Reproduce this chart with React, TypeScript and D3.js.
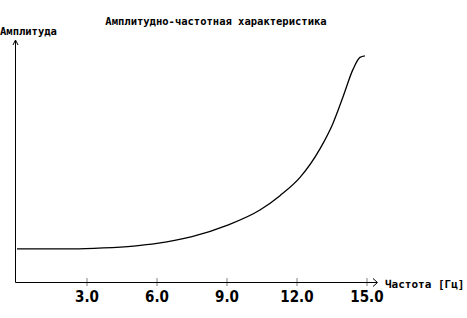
import React from "react";
import * as d3 from "d3";

const freq = [0, 2.4, 3.7, 5, 6, 7.5, 9, 10.41, 11.27, 12.13, 12.99, 13.54, 13.97, 14.4, 14.7, 14.91];
const amplitude = [0.142, 0.142, 0.146, 0.154, 0.165, 0.193, 0.24, 0.304, 0.364, 0.44, 0.56, 0.665, 0.775, 0.89, 0.94, 0.946];
const tickValues = [3, 6, 9, 12, 15];
const title = "Амплитудно-частотная характеристика";
const yLabel = "Амплитуда";
const xLabel = "Частота [Гц]";

const W = 467;
const H = 318;

export default function App() {
  const x = d3.scaleLinear().domain([0, 15]).range([17, 367]);
  const y = d3.scaleLinear().domain([0, 1]).range([283, 43]);
  const pts = freq.map((f, i) => [f, amplitude[i]] as [number, number]);
  const line = d3
    .line<[number, number]>()
    .x((d) => x(d[0]))
    .y((d) => y(d[1]))
    .curve(d3.curveMonotoneX);
  const axisY = 282.5;
  const axisX = 15.5;
  const pix = "'DejaVu Sans Mono', monospace";
  return (
    <div style={{ position: "absolute", left: 0, top: 0 }}>
      <svg width={W} height={H} style={{ display: "block", background: "#fff" }}>
        <text x={216} y={25} textAnchor="middle" fontFamily={pix} fontSize={10.5} fontWeight="bold" fill="#000">
          {title}
        </text>
        <text x={0} y={35} fontFamily={pix} fontSize={10.5} fontWeight="bold" fill="#000">
          {yLabel}
        </text>
        <text x={385} y={288} fontFamily={pix} fontSize={11} fontWeight="bold" fill="#000">
          {xLabel}
        </text>
        {/* y axis */}
        <line x1={axisX} y1={41} x2={axisX} y2={axisY} stroke="#000" strokeWidth={1} />
        <path d={`M${axisX - 2.5},${45} L${axisX},${40} L${axisX + 2.5},${45}`} fill="none" stroke="#000" strokeWidth={1} />
        {/* x axis */}
        <line x1={axisX} y1={axisY} x2={377} y2={axisY} stroke="#000" strokeWidth={1.2} />
        <path d={`M${373},${axisY - 4} L${377.5},${axisY} L${373},${axisY + 4}`} fill="none" stroke="#000" strokeWidth={1} />
        {tickValues.map((t) => (
          <g key={t}>
            <line x1={x(t)} y1={axisY - 4} x2={x(t)} y2={axisY + 3} stroke="#000" strokeWidth={1} strokeDasharray="1,1" />
            <text
              x={x(t)}
              y={302}
              textAnchor="middle"
              fontFamily="'DejaVu Sans Condensed', 'DejaVu Sans', sans-serif"
              fontWeight="bold"
              fontSize={15}
              fill="#000"
            >
              {t.toFixed(1)}
            </text>
          </g>
        ))}
        <path d={line(pts) || ""} fill="none" stroke="#000" strokeWidth={1.3} />
      </svg>
    </div>
  );
}
